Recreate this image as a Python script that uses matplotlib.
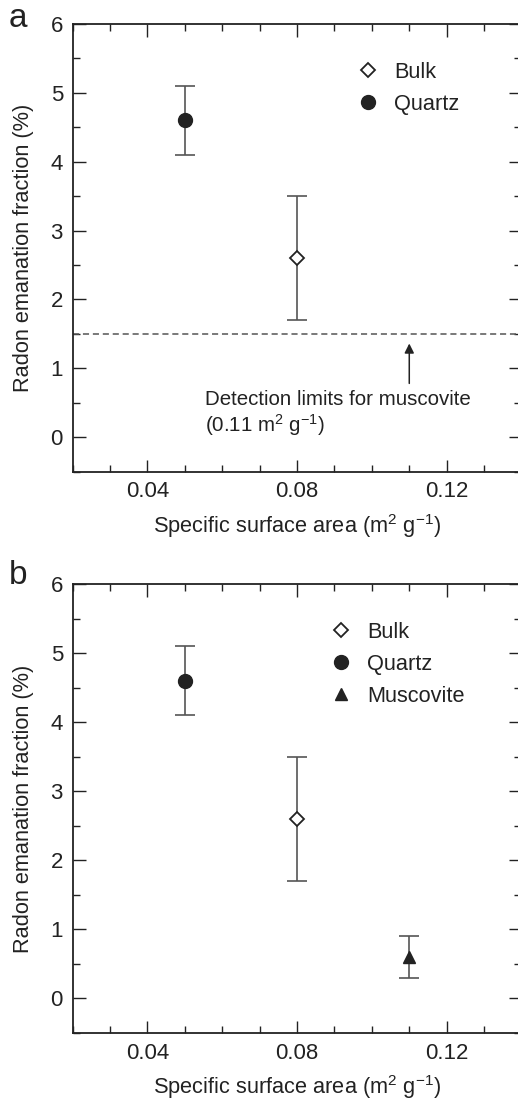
import matplotlib
matplotlib.use('Agg')
import matplotlib.pyplot as plt
from matplotlib.ticker import MultipleLocator

plt.rcParams['font.family'] = ['Liberation Sans', 'DejaVu Sans']
plt.rcParams['mathtext.fontset'] = 'custom'
plt.rcParams['mathtext.rm'] = 'Liberation Sans'
plt.rcParams['mathtext.it'] = 'Liberation Sans:italic'

# data
bulk_x = [0.08]
bulk_y = [2.6]
bulk_err = [0.9]
quartz_x = [0.05]
quartz_y = [4.6]
quartz_err = [0.5]
musc_x = [0.11]
musc_y = [0.6]
musc_err = [0.3]
detection_limit = 1.5
musc_ssa = 0.11

text_c = '#222222'
err_c = '#555555'
fs = 15.7

fig = plt.figure(figsize=(5.18, 11.02), dpi=100)
ax_a = fig.add_axes([0.1403, 0.5721, 0.8664, 0.4061])
ax_b = fig.add_axes([0.1403, 0.0626, 0.8664, 0.4072])


def style_axis(ax):
    ax.set_xlim(0.02, 0.14)
    ax.set_ylim(-0.5, 6)
    ax.xaxis.set_minor_locator(MultipleLocator(0.01))
    ax.yaxis.set_major_locator(MultipleLocator(1))
    ax.yaxis.set_minor_locator(MultipleLocator(0.5))
    ax.set_xticks([0.04, 0.08, 0.12])
    ax.set_xticklabels(['0.04', '0.08', '0.12'])
    ax.tick_params(which='both', direction='in', top=True, right=True,
                   labelsize=16, colors=text_c, width=1.0)
    ax.tick_params(which='major', length=9, pad=7)
    ax.tick_params(which='minor', length=5)
    for s in ax.spines.values():
        s.set_linewidth(1.3)
        s.set_color(text_c)
    ax.set_xlabel('Specific surface area (m$^2$ g$^{-1}$)', fontsize=fs,
                  color=text_c, labelpad=7)
    ax.set_ylabel('Radon emanation fraction (%)', fontsize=fs,
                  color=text_c, labelpad=12)


def draw_points(ax, with_musc):
    ax.errorbar(bulk_x, bulk_y, yerr=bulk_err, fmt='none', ecolor=err_c,
                elinewidth=1.2, capsize=7, capthick=1.2)
    ax.plot(bulk_x, bulk_y, linestyle='none', marker='D', markersize=7,
            markerfacecolor='white', markeredgecolor=text_c,
            markeredgewidth=1.3, label='Bulk')
    ax.errorbar(quartz_x, quartz_y, yerr=quartz_err, fmt='none', ecolor=err_c,
                elinewidth=1.2, capsize=7, capthick=1.2)
    ax.plot(quartz_x, quartz_y, linestyle='none', marker='o', markersize=10,
            color=text_c, label='Quartz')
    if with_musc:
        ax.errorbar(musc_x, musc_y, yerr=musc_err, fmt='none', ecolor=err_c,
                    elinewidth=1.2, capsize=7, capthick=1.2)
        ax.plot(musc_x, musc_y, linestyle='none', marker='^', markersize=9,
                color=text_c, label='Muscovite')


# Panel a
style_axis(ax_a)
draw_points(ax_a, False)
ax_a.axhline(detection_limit, color=err_c, linestyle='--', linewidth=1.1,
             dashes=(4, 2.5))
ax_a.annotate('', xy=(musc_ssa, 1.36), xytext=(musc_ssa, 0.78),
              arrowprops=dict(arrowstyle='-|>', color=text_c, lw=1.1,
                              mutation_scale=14, shrinkA=0, shrinkB=0))
ax_a.text(0.0555, 0.54, 'Detection limits for muscovite', fontsize=14.8,
          color=text_c, va='center', ha='left')
ax_a.text(0.0555, 0.18, '(0.11 m$^2$ g$^{-1}$)', fontsize=14.8,
          color=text_c, va='center', ha='left')
leg = ax_a.legend(loc='upper left', bbox_to_anchor=(0.604, 0.94),
                  frameon=False, fontsize=fs, handletextpad=0.6,
                  labelspacing=0.5, handlelength=1.2, borderpad=0)
for t in leg.get_texts():
    t.set_color(text_c)

# Panel b
style_axis(ax_b)
draw_points(ax_b, True)
leg = ax_b.legend(loc='upper left', bbox_to_anchor=(0.544, 0.94),
                  frameon=False, fontsize=fs, handletextpad=0.6,
                  labelspacing=0.5, handlelength=1.2, borderpad=0)
for t in leg.get_texts():
    t.set_color(text_c)

fig.text(0.035, 0.983, 'a', fontsize=24, color=text_c, ha='center', va='center')
fig.text(0.035, 0.478, 'b', fontsize=24, color=text_c, ha='center', va='center')

fig.savefig('out.png', dpi=100)
plt.close(fig)
